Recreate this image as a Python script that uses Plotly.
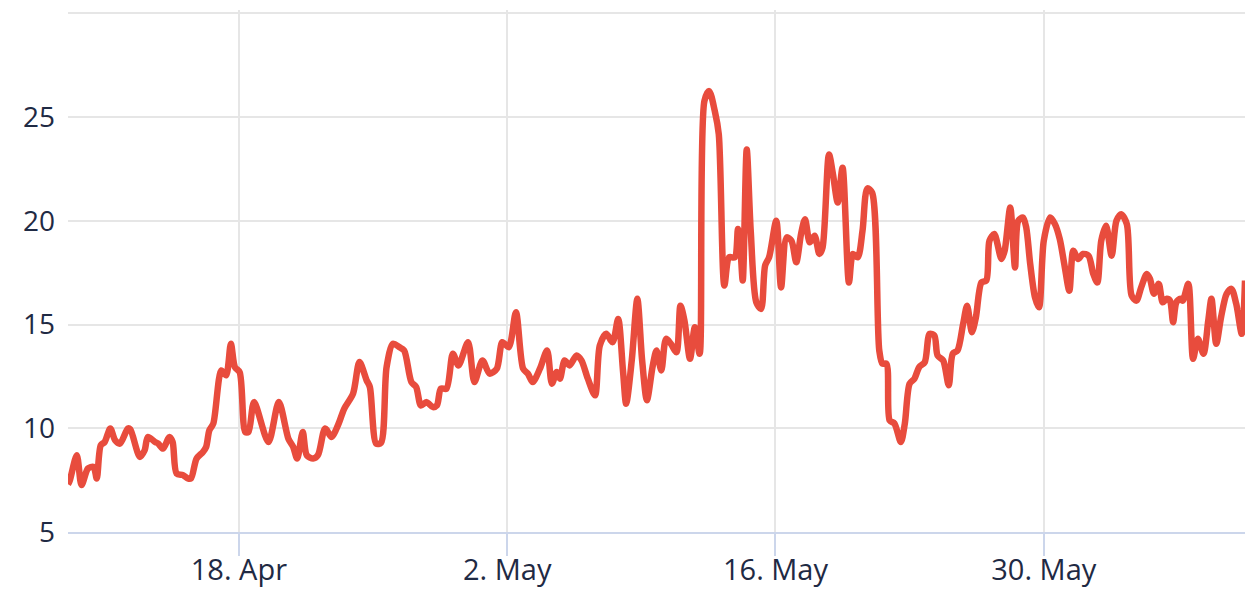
import pandas as pd
import plotly.graph_objects as go

# ---- data ----
timestamps = [
    "04-09 02", "04-09 04", "04-09 13", "04-09 19", "04-10 03", "04-10 10", "04-10 14", "04-10 19",
    "04-11 00", "04-11 07", "04-11 13", "04-11 19", "04-12 05", "04-12 08", "04-12 20", "04-13 02",
    "04-13 06", "04-13 15", "04-13 19", "04-14 01", "04-14 09", "04-14 13", "04-14 18", "04-15 02",
    "04-15 08", "04-15 12", "04-15 19", "04-16 03", "04-16 07", "04-16 11", "04-16 16", "04-17 02",
    "04-17 08", "04-17 14", "04-17 19", "04-18 01", "04-18 08", "04-18 12", "04-18 19", "04-19 13",
    "04-20 02", "04-20 14", "04-20 20", "04-21 01", "04-21 08", "04-21 13", "04-21 21", "04-22 03",
    "04-22 12", "04-22 20", "04-23 04", "04-23 12", "04-23 23", "04-24 07", "04-24 16", "04-24 20",
    "04-25 04", "04-25 10", "04-25 17", "04-26 01", "04-26 09", "04-26 15", "04-27 00", "04-27 06",
    "04-27 12", "04-27 19", "04-28 03", "04-28 08", "04-28 13", "04-28 20", "04-29 04", "04-29 11",
    "04-29 23", "04-30 07", "04-30 17", "05-01 02", "05-01 11", "05-01 18", "05-02 02", "05-02 11",
    "05-02 20", "05-03 02", "05-03 08", "05-03 17", "05-04 02", "05-04 08", "05-04 14", "05-04 18",
    "05-05 00", "05-05 06", "05-05 15", "05-05 21", "05-06 05", "05-06 14", "05-06 20", "05-07 04",
    "05-07 12", "05-07 19", "05-08 01", "05-08 05", "05-08 12", "05-08 19", "05-09 01", "05-09 07",
    "05-09 14", "05-09 19", "05-10 01", "05-10 07", "05-10 13", "05-10 20", "05-11 01", "05-11 06",
    "05-11 13", "05-11 19", "05-12 01", "05-12 07", "05-12 13", "05-12 20", "05-13 01", "05-13 08",
    "05-13 14", "05-13 21", "05-14 01", "05-14 04", "05-14 07", "05-14 12", "05-14 17", "05-15 00",
    "05-15 06", "05-15 11", "05-15 16", "05-16 01", "05-16 07", "05-16 14", "05-16 20", "05-17 02",
    "05-17 08", "05-17 13", "05-17 19", "05-18 01", "05-18 07", "05-18 11", "05-18 19", "05-19 00",
    "05-19 06", "05-19 12", "05-19 20", "05-20 01", "05-20 07", "05-20 13", "05-20 19", "05-21 01",
    "05-21 10", "05-21 14", "05-21 19", "05-21 23", "05-22 05", "05-22 13", "05-22 18", "05-23 00",
    "05-23 06", "05-23 12", "05-23 19", "05-24 01", "05-24 07", "05-24 11", "05-24 18", "05-25 01",
    "05-25 06", "05-25 12", "05-25 19", "05-26 00", "05-26 06", "05-26 11", "05-26 18", "05-27 00",
    "05-27 04", "05-27 10", "05-27 19", "05-27 23", "05-28 06", "05-28 12", "05-28 16", "05-28 22",
    "05-29 02", "05-29 07", "05-29 13", "05-29 18", "05-30 00", "05-30 08", "05-30 14", "05-30 20",
    "05-31 02", "05-31 08", "05-31 13", "05-31 19", "06-01 01", "06-01 08", "06-01 14", "06-01 19",
    "06-02 00", "06-02 06", "06-02 13", "06-02 19", "06-03 01", "06-03 08", "06-03 14", "06-03 20",
    "06-04 02", "06-04 09", "06-04 13", "06-04 18", "06-05 00", "06-05 05", "06-05 10", "06-05 14",
    "06-05 18", "06-05 22", "06-06 03", "06-06 06", "06-06 13", "06-06 19", "06-07 01", "06-07 08",
    "06-07 14", "06-07 18", "06-08 00", "06-08 06", "06-08 13", "06-08 19", "06-09 01", "06-09 08",
    "06-09 12",
]

values = [
    7.3, 7.45, 8.7, 7.26, 8.06, 8.14, 7.58, 9.18,
    9.34, 9.99, 9.42, 9.26, 9.99, 9.95, 8.62, 8.94,
    9.58, 9.34, 9.26, 9.02, 9.58, 9.34, 7.82, 7.74,
    7.58, 7.58, 8.54, 8.86, 9.1, 9.9, 10.23, 12.79,
    12.55, 14.07, 12.95, 12.7, 9.82, 9.82, 11.26, 9.34,
    11.26, 9.5, 9.1, 8.54, 9.82, 8.7, 8.54, 8.7,
    9.99, 9.58, 10.14, 10.95, 11.67, 13.19, 12.31, 11.99,
    9.26, 9.3, 12.95, 14.07, 13.91, 13.75, 12.23, 11.99,
    11.1, 11.26, 11.02, 11.1, 11.91, 11.91, 13.59, 13.03,
    14.15, 12.23, 13.27, 12.63, 12.87, 14.15, 13.91, 15.59,
    12.87, 12.63, 12.23, 12.87, 13.75, 12.15, 12.71, 12.39,
    13.27, 13.03, 13.51, 13.27, 12.39, 11.59, 13.99, 14.55,
    14.15, 15.27, 12.79, 11.18, 13.27, 16.24, 13.27, 11.35,
    12.95, 13.75, 12.79, 14.31, 14.07, 13.67, 15.91, 15.19,
    13.35, 14.87, 13.59, 25.77, 26.25, 25.29, 24.17, 16.88,
    18.24, 18.24, 19.6, 18.72, 17.12, 23.44, 19.52, 16.07,
    15.75, 17.84, 18.24, 20.0, 16.79, 19.2, 19.04, 18.0,
    19.36, 20.08, 18.96, 19.28, 18.4, 18.72, 23.2, 22.24,
    20.88, 22.56, 17.03, 18.4, 18.24, 19.52, 21.56, 21.36,
    13.75, 13.11, 13.11, 10.38, 10.23, 9.34, 10.23, 12.15,
    12.39, 12.95, 13.19, 14.55, 14.47, 13.51, 13.27, 12.07,
    13.59, 13.75, 15.03, 15.91, 14.63, 15.35, 17.03, 17.12,
    19.04, 19.36, 18.16, 18.56, 20.64, 17.75, 20.0, 20.16,
    19.68, 17.92, 16.31, 15.83, 19.04, 20.16, 19.84, 19.12,
    17.84, 16.63, 18.56, 18.16, 18.4, 18.32, 17.44, 17.03,
    19.04, 19.76, 18.32, 20.0, 20.32, 19.84, 16.4, 16.15,
    16.79, 17.44, 17.2, 16.48, 16.96, 16.07, 16.24, 16.15,
    15.11, 16.07, 16.24, 16.15, 16.96, 13.35, 14.31, 13.59,
    15.19, 16.24, 14.07, 15.35, 16.48, 16.72, 16.0, 14.55,
    17.12,
]

year = "2021"
tick_dates = ["2021-04-18", "2021-05-02", "2021-05-16", "2021-05-30"]
tick_labels = ["18. Apr", "2. May", "16. May", "30. May"]
y_ticks = [5, 10, 15, 20, 25, 30]
y_tick_labels = ["5", "10", "15", "20", "25", ""]

x = pd.to_datetime([f"{year}-{t}:00" for t in timestamps])

LINE_COLOR = "#e84c3d"
GRID = "#e6e6e6"
AXIS = "#ccd6eb"
TEXT = "#1f2a44"
FONT = "Open Sans"
FSIZE = 29

fig = go.Figure()
fig.add_trace(go.Scatter(
    x=x, y=values, mode="lines",
    line=dict(color=LINE_COLOR, width=6.5, shape="spline", smoothing=0.8),
    hoverinfo="x+y", showlegend=False,
))

fig.update_layout(
    width=1259, height=594,
    margin=dict(l=68, r=14, t=10, b=62, autoexpand=False),
    plot_bgcolor="white", paper_bgcolor="white",
    font=dict(family=FONT, size=FSIZE, color=TEXT),
    xaxis=dict(
        range=[f"{year}-04-09 02:00", f"{year}-06-09 12:00"],
        tickmode="array", tickvals=tick_dates, ticktext=tick_labels,
        showgrid=True, gridcolor=GRID, gridwidth=2,
        showline=True, linecolor=AXIS, linewidth=2,
        ticks="outside", ticklen=22, tickwidth=2, tickcolor=AXIS,
        ticklabelstandoff=-11,
        zeroline=False, automargin=False,
        tickfont=dict(family=FONT, size=FSIZE, color=TEXT),
    ),
    yaxis=dict(
        range=[5, 30.16],
        tickmode="array", tickvals=y_ticks, ticktext=y_tick_labels,
        showgrid=True, gridcolor=GRID, gridwidth=2,
        showline=False, zeroline=False, ticks="",
        ticklabelstandoff=12, automargin=False,
        tickfont=dict(family=FONT, size=FSIZE - 1, color=TEXT),
    ),
)

fig.write_html(
    "out.html",
    config={"displayModeBar": False},
    post_script="document.body.style.margin='0';document.body.style.overflow='hidden';",
)
